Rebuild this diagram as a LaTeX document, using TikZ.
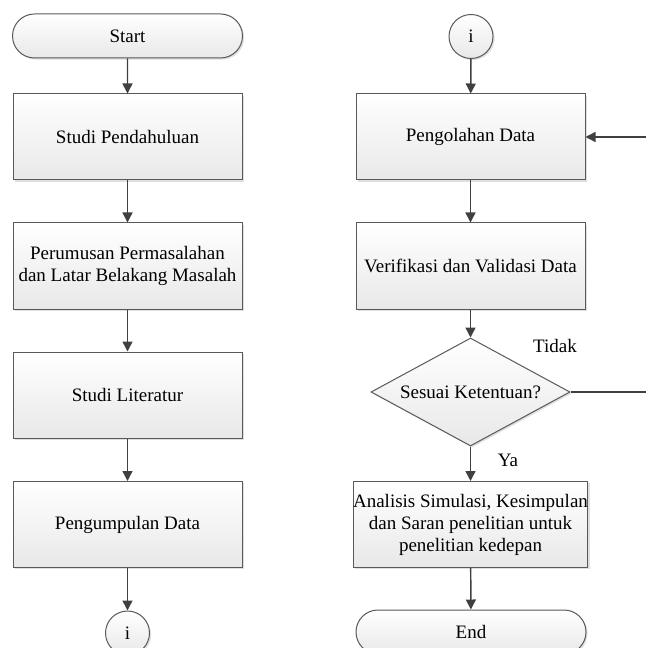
\documentclass[tikz,border=0pt]{standalone}
\usepackage{fontspec}
\setmainfont{Liberation Serif}
\usetikzlibrary{shapes.geometric,shapes.misc,arrows.meta,shadows}
\begin{document}
\begin{tikzpicture}[x=0.75pt,y=-0.75pt,
  font=\fontsize{14.25pt}{16.5pt}\selectfont,
  base/.style={draw=black!65, line width=0.75pt, top color=white, bottom color=black!9,
    drop shadow={shadow xshift=1.2pt, shadow yshift=-1.2pt, fill=black!25, opacity=0.5},
    inner sep=0pt, align=center},
  procbox/.style={base, rectangle, minimum width=171.75pt, minimum height=64.5pt},
  term/.style={base, rounded rectangle, minimum width=172.5pt, minimum height=33pt},
  conn/.style={base, circle, minimum size=33pt},
  decide/.style={base, diamond, aspect=1.84, minimum width=149.25pt, minimum height=81pt},
  flow/.style={draw=black!75, line width=1.1pt, -{Triangle[width=7.5pt,length=7.5pt]}},
  plainline/.style={draw=black!75, line width=1.1pt}]
\useasboundingbox (0,0) rectangle (645,648);
% left column
\node[term] (start) at (127.5,36) {Start};
\node[procbox] (b1) at (127.5,137) {Studi Pendahuluan};
\node[procbox] (b2) at (127.5,266) {Perumusan Permasalahan\\dan Latar Belakang Masalah};
\node[procbox] (b3) at (127.5,395) {Studi Literatur};
\node[procbox] (b4) at (127.5,524.5) {Pengumpulan Data};
\node[conn] (c1) at (127.5,633) {i};
% right column
\node[conn] (c2) at (471,36.5) {i};
\node[procbox] (r1) at (470.5,137) {Pengolahan Data};
\node[procbox] (r2) at (470.5,266) {Verifikasi dan Validasi Data};
\node[decide] (d) at (470.5,392) {Sesuai Ketentuan?};
\node[procbox] (r3) at (470.5,524.5) {Analisis Simulasi, Kesimpulan\\dan Saran penelitian untuk\\penelitian kedepan};
\node[term] (end) at (471,632) {End};
\node (tidak) at (555,346) {Tidak};
\node (ya) at (508,460) {Ya};
\coordinate (k1) at (650,392);
\coordinate (k2) at (650,137);
% connectors
\draw[flow] (start) -- (b1);
\draw[flow] (b1) -- (b2);
\draw[flow] (b2) -- (b3);
\draw[flow] (b3) -- (b4);
\draw[flow] (b4) -- (c1);
\draw[flow] (c2) -- (r1);
\draw[flow] (r1) -- (r2);
\draw[flow] (r2) -- (d);
\draw[flow] (d) -- (r3);
\draw[flow] (r3) -- (end);
\draw[plainline] (d.east) -- (k1) -- (k2);
\draw[flow] (k2) -- (r1.east);
\end{tikzpicture}
\end{document}
